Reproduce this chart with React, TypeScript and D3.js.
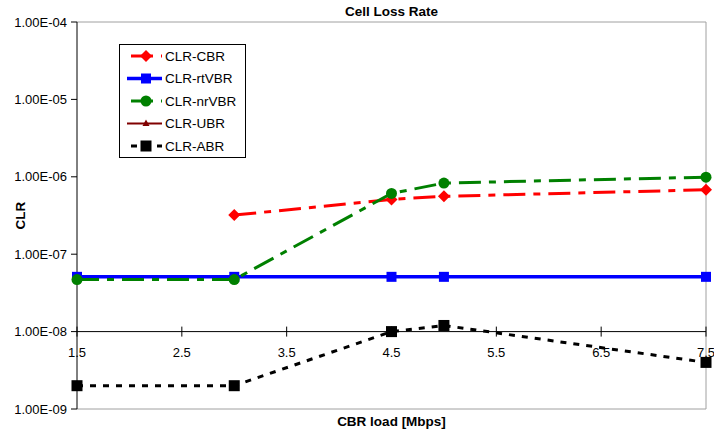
import { useEffect, useRef } from 'react';
import * as d3 from 'd3';

const loads = [1.5, 3, 4.5, 5, 7.5];
const clrCbr = [null, 3.2e-7, 5.1e-7, 5.6e-7, 6.8e-7];
const clrRtVbr = [5.1e-8, 5.1e-8, 5.1e-8, 5.1e-8, 5.1e-8];
const clrNrVbr = [4.7e-8, 4.7e-8, 6.1e-7, 8.3e-7, 9.9e-7];
const clrUbr: (number | null)[] = [null, null, null, null, null];
const clrAbr = [2.0e-9, 2.0e-9, 1.0e-8, 1.2e-8, 4.0e-9];

const xTicks = [1.5, 2.5, 3.5, 4.5, 5.5, 6.5, 7.5];
const yTicks = [1e-9, 1e-8, 1e-7, 1e-6, 1e-5, 1e-4];
const yTickLabels = ['1.00E-09', '1.00E-08', '1.00E-07', '1.00E-06', '1.00E-05', '1.00E-04'];

const W = 714;
const H = 434;
const MARGIN = { top: 22, right: 6, bottom: 25, left: 77 };
const FONT = "'Liberation Sans', Arial, sans-serif";

interface Series {
  name: string;
  values: (number | null)[];
  color: string;
  dash: string;
  width: number;
  marker: 'diamond' | 'square' | 'circle' | 'triangle' | 'bigsquare';
}

const series: Series[] = [
  { name: 'CLR-CBR', values: clrCbr, color: '#ff0000', dash: '22,8,7,8', width: 3, marker: 'diamond' },
  { name: 'CLR-rtVBR', values: clrRtVbr, color: '#0000ff', dash: '', width: 3.5, marker: 'square' },
  { name: 'CLR-nrVBR', values: clrNrVbr, color: '#008000', dash: '22,8,7,8', width: 3, marker: 'circle' },
  { name: 'CLR-UBR', values: clrUbr, color: '#800000', dash: '', width: 2, marker: 'triangle' },
  { name: 'CLR-ABR', values: clrAbr, color: '#000000', dash: '6,7', width: 3, marker: 'bigsquare' },
];

function drawMarker(g: d3.Selection<SVGGElement, unknown, null, undefined>, kind: Series['marker'], x: number, y: number, color: string) {
  if (kind === 'diamond') {
    g.append('path').attr('d', `M${x},${y - 6}L${x + 6},${y}L${x},${y + 6}L${x - 6},${y}Z`).attr('fill', color);
  } else if (kind === 'square') {
    g.append('rect').attr('x', x - 5).attr('y', y - 5).attr('width', 10).attr('height', 10).attr('fill', color);
  } else if (kind === 'bigsquare') {
    g.append('rect').attr('x', x - 5.5).attr('y', y - 5.5).attr('width', 11).attr('height', 11).attr('fill', color);
  } else if (kind === 'circle') {
    g.append('circle').attr('cx', x).attr('cy', y).attr('r', 5.5).attr('fill', color);
  } else {
    g.append('path').attr('d', `M${x},${y - 4}L${x + 3.5},${y + 2.5}L${x - 3.5},${y + 2.5}Z`).attr('fill', color);
  }
}

export default function App() {
  const svgRef = useRef<SVGSVGElement>(null);

  useEffect(() => {
    if (!svgRef.current) return;
    const svg = d3.select(svgRef.current);
    svg.selectAll('*').remove();

    const left = MARGIN.left;
    const right = W - MARGIN.right - 2;
    const top = MARGIN.top;
    const bottom = H - MARGIN.bottom;

    const x = d3.scaleLinear().domain([1.5, 7.5]).range([left, right]);
    const y = d3.scaleLog().domain([1e-9, 1e-4]).range([bottom, top]);
    const axisY = y(1e-8);

    svg.append('rect').attr('width', W).attr('height', H).attr('fill', '#fff');

    // plot frame (grey)
    svg.append('path')
      .attr('d', `M${left},${top}H${right}V${bottom}H${left}`)
      .attr('fill', 'none')
      .attr('stroke', '#a0a0a0')
      .attr('stroke-width', 1);

    // y axis
    const gy = svg.append('g').attr('transform', `translate(${left},0)`);
    gy.append('line').attr('y1', top).attr('y2', bottom).attr('stroke', '#000');
    yTicks.forEach((t, i) => {
      gy.append('line').attr('x1', -6).attr('x2', 0).attr('y1', y(t)).attr('y2', y(t)).attr('stroke', '#000');
      gy.append('text')
        .attr('x', -10)
        .attr('y', y(t))
        .attr('dy', '0.35em')
        .attr('text-anchor', 'end')
        .attr('font-family', FONT)
        .attr('font-size', 13)
        .text(yTickLabels[i]);
    });

    // x axis crossing at 1e-8
    const gx = svg.append('g').attr('transform', `translate(0,${axisY})`);
    gx.append('line').attr('x1', left).attr('x2', right).attr('stroke', '#000');
    xTicks.forEach((t) => {
      gx.append('line').attr('x1', x(t)).attr('x2', x(t)).attr('y1', -5).attr('y2', 5).attr('stroke', '#000');
      gx.append('text')
        .attr('x', x(t))
        .attr('y', 25)
        .attr('text-anchor', 'middle')
        .attr('font-family', FONT)
        .attr('font-size', 13)
        .text(t.toFixed(1));
    });

    // series
    const line = d3
      .line<[number, number | null]>()
      .defined((d) => d[1] != null)
      .x((d) => x(d[0]))
      .y((d) => y(d[1] as number));

    series.forEach((s) => {
      const pts = loads.map((l, i) => [l, s.values[i]] as [number, number | null]);
      const g = svg.append('g');
      g.append('path')
        .datum(pts)
        .attr('d', line)
        .attr('fill', 'none')
        .attr('stroke', s.color)
        .attr('stroke-width', s.width)
        .attr('stroke-dasharray', s.dash || null);
      pts.filter((p) => p[1] != null).forEach((p) => drawMarker(g, s.marker, x(p[0]), y(p[1] as number), s.color));
    });

    // legend
    const lg = svg.append('g');
    lg.append('rect')
      .attr('x', 119.5).attr('y', 44.5).attr('width', 126).attr('height', 113)
      .attr('fill', '#fff').attr('stroke', '#000');
    series.forEach((s, i) => {
      const ly = 56 + i * 22.5;
      lg.append('line')
        .attr('x1', 127).attr('x2', 162).attr('y1', ly).attr('y2', ly)
        .attr('stroke', s.color).attr('stroke-width', s.width)
        .attr('stroke-dasharray', s.dash || null)
        .attr('stroke-dashoffset', s.dash ? -4 : null);
      drawMarker(lg as any, s.marker, 146, ly, s.color);
      lg.append('text')
        .attr('x', 165).attr('y', ly).attr('dy', '0.35em')
        .attr('font-family', FONT).attr('font-size', 13.5)
        .text(s.name);
    });

    // titles
    svg.append('text')
      .attr('x', (left + right) / 2).attr('y', 16)
      .attr('text-anchor', 'middle')
      .attr('font-family', FONT).attr('font-size', 13.5).attr('font-weight', 'bold')
      .text('Cell Loss Rate');
    svg.append('text')
      .attr('x', (left + right) / 2).attr('y', 426)
      .attr('text-anchor', 'middle')
      .attr('font-family', FONT).attr('font-size', 13.5).attr('font-weight', 'bold')
      .text('CBR load [Mbps]');
    svg.append('text')
      .attr('transform', `translate(20,${(top + bottom) / 2}) rotate(-90)`)
      .attr('dy', '0.35em')
      .attr('text-anchor', 'middle')
      .attr('font-family', FONT).attr('font-size', 13.5).attr('font-weight', 'bold')
      .text('CLR');
  }, []);

  return <svg ref={svgRef} width={W} height={H} style={{ position: 'absolute', left: 0, top: 0 }} />;
}
